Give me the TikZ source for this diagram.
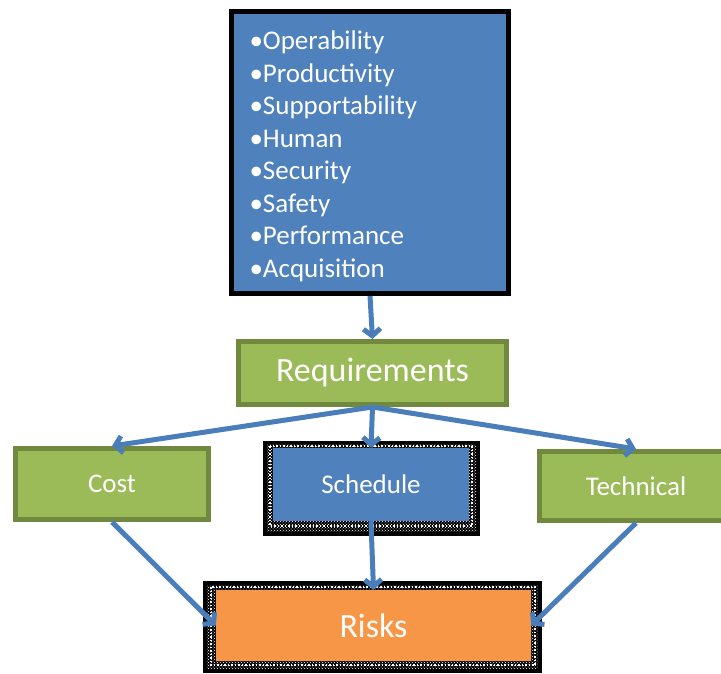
\documentclass[tikz,border=0pt]{standalone}
\usepackage{fontspec}
\setmainfont{Carlito}
\usetikzlibrary{arrows.meta,patterns}
\definecolor{boxblue}{HTML}{4F81BD}
\definecolor{boxgreen}{HTML}{9BBB59}
\definecolor{boxgreenline}{HTML}{71893F}
\definecolor{boxorange}{HTML}{F79646}
\definecolor{linkblue}{HTML}{4A7EBB}
\tikzset{
  greenbox/.style={fill=boxgreen, draw=boxgreenline, line width=5pt, text=white,
    minimum width=193pt, minimum height=71pt, font=\fontsize{27}{32}\selectfont},
  link/.style={draw=linkblue, line width=5pt, -{Straight Barb[length=7pt,width=17pt]}},
  dotband/.style={white, dotted, line width=1.5pt},
}
\begin{document}
\begin{tikzpicture}[x=1pt,y=-1pt]
\useasboundingbox (0,0) rectangle (721,673);
\fill[black] (263,441) rectangle (480,536);
\fill[pattern=crosshatch dots, pattern color=white] (267,444) rectangle (476,531);
\draw[dotband] (270,446) rectangle (472,526);
\fill[black] (203,581) rectangle (542,673);
\fill[pattern=crosshatch dots, pattern color=white] (207,585) rectangle (538,668);
\draw[dotband] (211,587) rectangle (535,665);
\draw (370,152.5) node[fill=boxblue, draw=black, line width=5pt, text=white,
  minimum width=277pt, minimum height=282pt, inner xsep=18pt, text width=241pt,
  align=left, font=\fontsize{27}{32.5}\selectfont] (needs)
  {\rule{0pt}{26pt}•Operability\\•Productivity\\•Supportability\\•Human\\•Security\\•Safety\\•Performance\\•Acquisition};
\draw (372.5,373) node[greenbox, minimum width=268pt, minimum height=63pt,
  font=\fontsize{34}{40}\selectfont] (req) {Requirements};
\draw (112,484) node[greenbox] (cost) {Cost};
\draw (371,484.5) node[fill=boxblue, text=white, minimum width=196pt, minimum height=73pt,
  font=\fontsize{27}{32}\selectfont] (sched) {Schedule};
\draw (636,486) node[greenbox, minimum height=69pt] (tech) {Technical};
\draw (373.5,625.5) node[fill=boxorange, text=white, minimum width=315pt, minimum height=71pt,
  font=\fontsize{34}{40}\selectfont] (risks) {Risks};
\draw[link] (needs.south) -- (req.north);
\draw[link] (req.south) -- (cost.north);
\draw[link] (req.south) -- (sched.north);
\draw[link] (req.south) -- (tech.north);
\draw[link] (cost.south) -- (risks.west);
\draw[link] (sched.south) -- (risks.north);
\draw[link] (tech.south) -- (risks.east);
\end{tikzpicture}
\end{document}
